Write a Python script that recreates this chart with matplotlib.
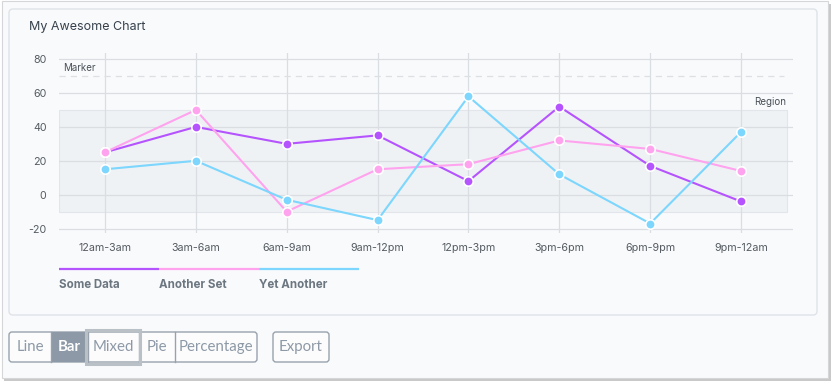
import matplotlib.pyplot as plt
from matplotlib.patches import FancyBboxPatch, Rectangle

# Data
categories = ['12am-3am', '3am-6am', '6am-9am', '9am-12pm',
              '12pm-3pm', '3pm-6pm', '6pm-9pm', '9pm-12am']
some_data = [25, 40, 30, 35, 8, 52, 17, -4]
another_set = [25, 50, -10, 15, 18, 32, 27, 14]
yet_another = [15, 20, -3, -15, 58, 12, -17, 37]
series_names = ['Some Data', 'Another Set', 'Yet Another']
series_colors = ['#b554ff', '#ffa3ef', '#7cd6fd']
y_ticks = [-20, 0, 20, 40, 60, 80]
marker_value = 70
region_range = (-10, 50)
buttons = ['Line', 'Bar', 'Mixed', 'Pie', 'Percentage']

W, H = 832, 384
fig = plt.figure(figsize=(W / 100, H / 100), dpi=100)
fig.patch.set_facecolor('white')
plt.rcParams['font.family'] = ['Inter', 'DejaVu Sans']
plt.rcParams['axes.unicode_minus'] = False

# background layer in pixel coords
bg = fig.add_axes([0, 0, 1, 1])
bg.set_xlim(0, W)
bg.set_ylim(H, 0)
bg.axis('off')

# page with shadow
bg.add_patch(Rectangle((4, 4), 827, 377, facecolor='#c9c9c9', edgecolor='none', zorder=0))
bg.add_patch(Rectangle((2, 1), 826, 377, facecolor='#f9fafc', edgecolor='#d4d6d8', lw=0.8, zorder=1))

# card
bg.add_patch(FancyBboxPatch((9, 9), 808, 306, boxstyle='round,pad=0,rounding_size=4',
                            facecolor='#f9fafc', edgecolor='#dfe3e7', lw=1, zorder=2))
bg.text(29, 27, 'My Awesome Chart', fontsize=9, color='#36414c', va='center', ha='left', zorder=3)

# legend
for i, (name, col) in enumerate(zip(series_names, series_colors)):
    x0 = 59 + i * 100
    bg.plot([x0, x0 + 100], [269, 269], color=col, lw=1.6, solid_capstyle='butt', zorder=3)
    bg.text(x0, 285, name, fontsize=8.3, fontweight='bold', color='#6c7680',
            va='center', ha='left', zorder=3)

# buttons
edges = [9, 51, 88, 139, 175, 257]
btn_col = '#98a2ac'
btn_font = ['Lato', 'DejaVu Sans']
bg.add_patch(FancyBboxPatch((9, 332), 248, 30, boxstyle='round,pad=0,rounding_size=3',
                            facecolor='#fcfcfd', edgecolor=btn_col, lw=1, zorder=3))
bg.add_patch(Rectangle((51, 332), 37, 30, facecolor='#8d99a6', edgecolor='none', zorder=4))
for x in edges[1:-1]:
    bg.plot([x, x], [332, 362], color=btn_col, lw=1, zorder=5)
bg.add_patch(Rectangle((86, 330), 54, 34, facecolor='none', edgecolor='#b9c0c6', lw=2.2, zorder=6))
for i, label in enumerate(buttons):
    cx = (edges[i] + edges[i + 1]) / 2
    if label == 'Bar':
        bg.text(cx, 347, label, fontsize=10.8, color='white', fontweight='bold',
                ha='center', va='center', family=btn_font, zorder=7)
    else:
        bg.text(cx, 347, label, fontsize=10.8, color='#8d99a6',
                ha='center', va='center', family=btn_font, zorder=7)
bg.add_patch(FancyBboxPatch((273, 332), 56, 30, boxstyle='round,pad=0,rounding_size=3',
                            facecolor='#fcfcfd', edgecolor=btn_col, lw=1, zorder=3))
bg.text(301, 347, 'Export', fontsize=10.8, color='#8d99a6', ha='center', va='center',
        family=btn_font, zorder=7)

# chart axes
left, right, top, bottom = 59, 793, 53, 233
ax = fig.add_axes([left / W, 1 - bottom / H, (right - left) / W, (bottom - top) / H])
ax.patch.set_alpha(0)
x = list(range(len(categories)))
ax.set_xlim(-0.506, 7.572)
ax.set_ylim(-22.6, 83.6)

ax.axhspan(region_range[0], region_range[1], xmin=0, xmax=(7.506 + 0.506) / (7.572 + 0.506),
           facecolor='#eff2f5', edgecolor='#e2e6ea', lw=0.8, zorder=0)
ax.plot([-0.506, 7.47], [marker_value, marker_value], color='#dcdfe3', lw=0.9,
        ls=(0, (5, 4)), zorder=1)
ax.text(-0.46, 74.7, 'Marker', fontsize=7, color='#4a5057', va='center', ha='left')
ax.text(7.495, 54.7, 'Region', fontsize=7, color='#4a5057', va='center', ha='right')

for vals, col in zip([some_data, another_set, yet_another], series_colors):
    ax.plot(x, vals, color=col, lw=1.5, marker='o', markersize=6.8,
            markerfacecolor=col, markeredgecolor='white', markeredgewidth=1.2, zorder=4)

ax.set_xticks(x)
ax.set_xticklabels(categories)
ax.set_yticks(y_ticks)
ax.grid(True, color='#dadde1', lw=0.9, zorder=0)
ax.set_axisbelow(True)
for s in ax.spines.values():
    s.set_visible(False)
ax.tick_params(axis='both', length=0, labelsize=7.7, labelcolor='#555b61')
ax.tick_params(axis='x', pad=7)
ax.tick_params(axis='y', pad=9)

fig.savefig('out.png', dpi=100, facecolor='white')
